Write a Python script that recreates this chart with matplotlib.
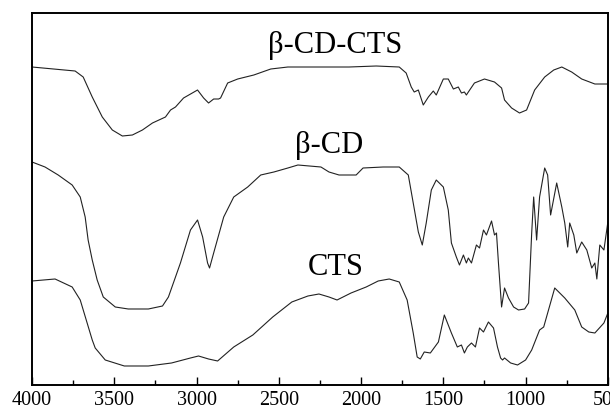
import numpy as np
import matplotlib
matplotlib.use('Agg')
import matplotlib.pyplot as plt
from matplotlib.ticker import MultipleLocator

plt.rcParams['font.family'] = ['Liberation Serif', 'DejaVu Serif']

# FTIR spectra, wavenumber (cm-1) vs transmittance (arbitrary, offset)
wn_cdcts = [4000, 3738, 3689, 3634, 3573, 3512, 3451, 3390, 3329, 3268, 3189, 3158, 3128,
            3079, 2994, 2957, 2927, 2896, 2866, 2854, 2811, 2750, 2652, 2549, 2445, 2244,
            2073, 1908, 1768, 1726, 1695, 1677, 1652, 1622, 1591, 1561, 1543, 1500, 1470,
            1439, 1409, 1390, 1372, 1360, 1348, 1311, 1250, 1189, 1146, 1128, 1085, 1037,
            994, 945, 884, 829, 780, 720, 659, 579, 500]
t_cdcts = [318, 314, 308, 288, 268, 255, 249, 250, 255, 262, 268, 275, 278,
           287, 295, 287, 282, 286, 286, 287, 302, 306, 310, 316, 318, 318,
           318, 319, 318, 312, 298, 293, 295, 280, 288, 294, 290, 306, 306,
           296, 298, 292, 293, 290, 293, 302, 306, 303, 297, 285, 277, 272,
           275, 295, 308, 315, 318, 313, 306, 301, 301]

wn_cd = [4000, 3921, 3841, 3756, 3707, 3677, 3659, 3634, 3604, 3567, 3494, 3415, 3293,
         3207, 3171, 3128, 3098, 3037, 2994, 2963, 2933, 2921, 2896, 2835, 2774, 2689,
         2610, 2530, 2445, 2384, 2244, 2195, 2134, 2030, 1988, 1866, 1768, 1713, 1683,
         1652, 1628, 1604, 1573, 1543, 1500, 1470, 1451, 1421, 1402, 1378, 1360, 1348,
         1329, 1299, 1280, 1256, 1238, 1207, 1189, 1177, 1165, 1146, 1128, 1104, 1073,
         1043, 1006, 982, 963, 951, 933, 915, 884, 866, 848, 811, 780, 762, 744, 732,
         707, 689, 659, 628, 598, 579, 567, 549, 524, 500]
t_cd = [223, 218, 210, 200, 188, 168, 145, 125, 105, 88, 78, 76, 76,
        79, 88, 108, 122, 155, 165, 148, 122, 117, 132, 168, 188, 198,
        210, 213, 217, 220, 218, 213, 210, 210, 217, 218, 218, 210, 182,
        153, 140, 162, 195, 205, 198, 175, 142, 128, 120, 130, 122, 127,
        122, 140, 137, 155, 150, 164, 150, 152, 122, 78, 97, 87, 78,
        75, 76, 82, 152, 188, 145, 188, 217, 210, 170, 202, 178, 162, 138, 162,
        150, 132, 143, 135, 117, 122, 106, 140, 135, 163]

wn_cts = [4000, 3860, 3756, 3707, 3665, 3634, 3616, 3555, 3439, 3293, 3152, 3037, 2988,
          2927, 2872, 2774, 2658, 2537, 2421, 2323, 2256, 2195, 2146, 2061, 1969, 1896,
          1829, 1768, 1720, 1683, 1659, 1640, 1616, 1579, 1530, 1494, 1451, 1415, 1390,
          1372, 1354, 1329, 1305, 1280, 1256, 1226, 1195, 1171, 1152, 1140, 1128, 1091,
          1049, 1000, 963, 915, 890, 823, 762, 701, 659, 616, 579, 524, 500]
t_cts = [104, 106, 98, 85, 62, 45, 37, 25, 19, 19, 22, 27, 29,
         26, 24, 38, 50, 68, 83, 89, 91, 88, 85, 92, 98, 104,
         106, 103, 85, 52, 28, 26, 33, 32, 43, 70, 52, 38, 40,
         32, 38, 42, 38, 57, 53, 63, 57, 38, 27, 25, 27, 22,
         20, 25, 35, 55, 58, 97, 87, 75, 58, 53, 52, 62, 72]

labels = ['β-CD-CTS', 'β-CD', 'CTS']
label_pos = [(2158, 340), (2195, 240), (2152, 117)]

fig = plt.figure(figsize=(6.1, 4.09), dpi=100)
ax = fig.add_axes([0.0525, 0.0587, 0.944, 0.9095])

for wn, t in [(wn_cdcts, t_cdcts), (wn_cd, t_cd), (wn_cts, t_cts)]:
    ax.plot(wn, t, color='#222222', lw=0.8)

for lab, (x, y) in zip(labels, label_pos):
    ax.text(x, y, lab, fontsize=22, ha='center', va='center')

ax.set_xlim(4000, 500)
ax.set_ylim(0, 372)
ax.xaxis.set_major_locator(MultipleLocator(500))
ax.xaxis.set_minor_locator(MultipleLocator(250))
ax.tick_params(axis='x', which='major', direction='in', length=6, width=1,
               labelsize=14.5, pad=4)
ax.tick_params(axis='x', which='minor', direction='in', length=3.5, width=1)
ax.set_yticks([])
for s in ax.spines.values():
    s.set_linewidth(1.4)

fig.savefig('out.png', dpi=100)
